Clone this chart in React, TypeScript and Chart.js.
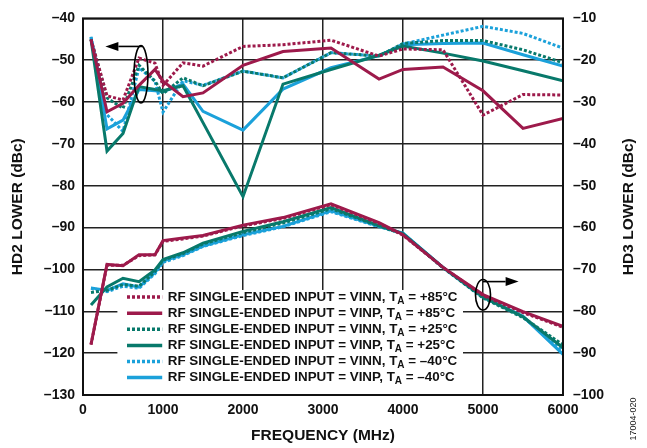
import React, { useEffect, useRef } from "react";
import { Chart, registerables } from "chart.js";

Chart.register(...registerables);

// ---------- DATA ----------
const freqMHz = [100, 300, 500, 700, 900, 1000, 1250, 1500, 2000, 2500, 3100, 3700, 4000, 4500, 5000, 5500, 6000];

// HD2 (left axis, dBc)
const hd2VinnP85 = [-45, -58.5, -59.5, -49.5, -50.7, -56, -50.6, -51.4, -46.7, -46.3, -45.2, -49, -47.3, -47.5, -63.1, -58.2, -58.3];
const hd2VinpP85 = [-45.1, -62.3, -60.3, -56, -52.2, -55, -58.7, -57.8, -51.2, -47.9, -47.1, -54.5, -52.2, -51.6, -57.3, -66.3, -63.9];
const hd2VinnP25 = [-45, -59, -61.5, -51.2, -55, -58, -54.2, -56.1, -52.6, -54.2, -48.2, -49, -46, -45.3, -45.3, -47.5, -50.6];
const hd2VinpP25 = [-45, -71.7, -67.5, -56.3, -57, -57.3, -56.1, -64.9, -82.6, -55.7, -52.2, -48.8, -46.6, -48.3, -50.2, -52.5, -54.9];
const hd2VinnM40 = [-44.4, -63, -67, -51.8, -55, -62.4, -54.9, -56, -52.6, -54.2, -48.2, -49, -46.1, -44, -41.9, -43.6, -47.1];
const hd2VinpM40 = [-44.5, -66.4, -64.3, -57, -57.3, -57.5, -55.7, -62.2, -66.7, -56.9, -51.8, -48.9, -46.3, -46, -45.9, -48.7, -51.4];

// HD3 (right axis, dBc)
const hd3VinnP85 = [-88, -69, -69, -66.7, -66.5, -63.3, -62.7, -62, -59.6, -57.8, -54.5, -59, -61.8, -69.5, -76.2, -80.3, -83.8];
const hd3VinpP85 = [-87.9, -68.8, -69.1, -66.5, -66.5, -63.1, -62.5, -61.9, -59.4, -57.6, -54.3, -58.8, -61.7, -69.5, -76, -80.1, -83.6];
const hd3VinnP25 = [-75.5, -75, -73.6, -74, -70.5, -67.8, -66.2, -63.9, -61.2, -58.9, -55.5, -59.6, -61.5, -69.6, -76.8, -81.5, -88];
const hd3VinpP25 = [-78.5, -74.2, -72.1, -72.9, -70.1, -67.6, -66, -63.7, -60.9, -58.6, -55.2, -59.5, -61.5, -69.5, -76.6, -81.3, -88.7];
const hd3VinnM40 = [-74.5, -75.3, -74, -74.5, -71, -68.3, -66.7, -64.5, -61.9, -59.8, -56.2, -59.8, -61.4, -69.6, -76.7, -81.3, -89.5];
const hd3VinpM40 = [-74.4, -75, -73.4, -74.2, -70.7, -68, -66.5, -64.4, -61.7, -59.7, -56, -59.7, -61.3, -69.5, -76.6, -81.2, -90.3];

const inputNames = ["VINN", "VINP", "VINN", "VINP", "VINN", "VINP"];
const tempNames = ["+85°C", "+85°C", "+25°C", "+25°C", "–40°C", "–40°C"];
const seriesColors = ["#9d1a4b", "#9d1a4b", "#08796b", "#08796b", "#1ba1da", "#1ba1da"];
const seriesDotted = [true, false, true, false, true, false];
const hd2Series = [hd2VinnP85, hd2VinpP85, hd2VinnP25, hd2VinpP25, hd2VinnM40, hd2VinpM40];
const hd3Series = [hd3VinnP85, hd3VinpP85, hd3VinnP25, hd3VinpP25, hd3VinnM40, hd3VinpM40];

const xTitle = "FREQUENCY (MHz)";
const yLeftTitle = "HD2 LOWER (dBc)";
const yRightTitle = "HD3 LOWER (dBc)";
const figureId = "17004-020";

const FONT = "'Liberation Sans', Arial, Helvetica, sans-serif";
const DASH = [3, 2];

const fmt = (v: number) => (v < 0 ? "–" + Math.abs(v) : String(v));

const decoPlugin = {
  id: "deco",
  beforeDatasetsDraw(chart: any) {
    const { ctx, chartArea, scales } = chart;
    const x = scales.x, y = scales.y;
    // legend background box
    const l = x.getPixelForValue(430);
    const r = x.getPixelForValue(4750);
    const t = y.getPixelForValue(-104.9);
    ctx.save();
    ctx.fillStyle = "#fff";
    ctx.fillRect(l, t, r - l, chartArea.bottom - t);
    ctx.restore();
  },
  afterDraw(chart: any) {
    const { ctx, chartArea, scales } = chart;
    const x = scales.x, y = scales.y, y2 = scales.y2;
    ctx.save();
    // frame
    ctx.strokeStyle = "#111";
    ctx.lineWidth = 2;
    ctx.strokeRect(chartArea.left, chartArea.top, chartArea.right - chartArea.left, chartArea.bottom - chartArea.top);

    // legend
    const rowY0 = y.getPixelForValue(-106.6);
    const rowStep = 16.1;
    const lx0 = x.getPixelForValue(550);
    const lx1 = x.getPixelForValue(990);
    const tx = x.getPixelForValue(1060);
    for (let i = 0; i < 6; i++) {
      const ry = rowY0 + i * rowStep;
      ctx.strokeStyle = seriesColors[i];
      ctx.lineWidth = 3.5;
      ctx.setLineDash(seriesDotted[i] ? DASH : []);
      ctx.beginPath();
      ctx.moveTo(lx0, ry);
      ctx.lineTo(lx1, ry);
      ctx.stroke();
      ctx.setLineDash([]);
      ctx.fillStyle = "#111";
      ctx.textBaseline = "middle";
      ctx.textAlign = "left";
      ctx.font = `bold 13.4px ${FONT}`;
      const pre = `RF SINGLE-ENDED INPUT = ${inputNames[i]}, T`;
      ctx.fillText(pre, tx, ry);
      let cx = tx + ctx.measureText(pre).width;
      ctx.font = `bold 10px ${FONT}`;
      ctx.fillText("A", cx, ry + 4);
      cx += ctx.measureText("A").width;
      ctx.font = `bold 13.4px ${FONT}`;
      ctx.fillText(` = ${tempNames[i]}`, cx, ry);
    }

    // annotations: ellipses and arrows
    ctx.strokeStyle = "#000";
    ctx.fillStyle = "#000";
    ctx.lineWidth = 1.6;
    const ell = (fx: number, fr: number, sc: any, v1: number, v2: number) => {
      const cx = x.getPixelForValue(fx);
      const rx = x.getPixelForValue(fx + fr) - cx;
      const a = sc.getPixelForValue(v1), b = sc.getPixelForValue(v2);
      ctx.beginPath();
      ctx.ellipse(cx, (a + b) / 2, rx, Math.abs(b - a) / 2, 0, 0, Math.PI * 2);
      ctx.stroke();
    };
    const arrow = (f0: number, f1: number, sc: any, v: number) => {
      const xa = x.getPixelForValue(f0), xb = x.getPixelForValue(f1);
      const yy = sc.getPixelForValue(v);
      const dir = Math.sign(xb - xa);
      const headLen = 13;
      ctx.beginPath();
      ctx.moveTo(xa, yy);
      ctx.lineTo(xb - dir * headLen, yy);
      ctx.stroke();
      ctx.beginPath();
      ctx.moveTo(xb, yy);
      ctx.lineTo(xb - dir * headLen, yy - 4.5);
      ctx.lineTo(xb - dir * headLen, yy + 4.5);
      ctx.closePath();
      ctx.fill();
    };
    ell(725, 87, y, -46.5, -60.2);
    arrow(740, 280, y, -46.7);
    ell(5000, 94, y2, -72.4, -79.7);
    arrow(5000, 5445, y2, -72.9);

    // axis titles
    ctx.fillStyle = "#111";
    ctx.font = `bold 15.5px ${FONT}`;
    ctx.textAlign = "center";
    ctx.textBaseline = "middle";
    ctx.fillText(xTitle, (chartArea.left + chartArea.right) / 2, 436);
    const midY = (chartArea.top + chartArea.bottom) / 2;
    ctx.save();
    ctx.translate(18, midY);
    ctx.rotate(-Math.PI / 2);
    ctx.fillText(yLeftTitle, 0, 0);
    ctx.restore();
    ctx.save();
    ctx.translate(629, midY);
    ctx.rotate(-Math.PI / 2);
    ctx.fillText(yRightTitle, 0, 0);
    ctx.restore();
    // figure id
    ctx.save();
    ctx.font = `9px ${FONT}`;
    ctx.fillStyle = "#222";
    ctx.translate(634, 419);
    ctx.rotate(-Math.PI / 2);
    ctx.fillText(figureId, 0, 0);
    ctx.restore();
    ctx.restore();
  },
};

export default function App() {
  const ref = useRef<HTMLCanvasElement | null>(null);
  useEffect(() => {
    document.body.style.margin = "0";
    const canvas = ref.current;
    if (!canvas) return;
    const datasets: any[] = [];
    for (let i = 0; i < 6; i++) {
      datasets.push({
        label: `RF SINGLE-ENDED INPUT = ${inputNames[i]}, TA = ${tempNames[i]}`,
        data: freqMHz.map((f, k) => ({ x: f, y: hd2Series[i][k] })),
        borderColor: seriesColors[i],
        borderWidth: 3,
        borderDash: seriesDotted[i] ? DASH : [],
        yAxisID: "y",
      });
    }
    for (let i = 0; i < 6; i++) {
      datasets.push({
        label: `HD3 ${inputNames[i]} ${tempNames[i]}`,
        data: freqMHz.map((f, k) => ({ x: f, y: hd3Series[i][k] })),
        borderColor: seriesColors[i],
        borderWidth: 3,
        borderDash: seriesDotted[i] ? DASH : [],
        yAxisID: "y2",
      });
    }
    const tickFont = { family: FONT, size: 14, weight: "bold" as const };
    const chart = new Chart(canvas, {
      type: "line",
      data: { datasets },
      options: {
        animation: false,
        responsive: false,
        devicePixelRatio: 1,
        layout: { padding: { top: 11, left: 0, right: 0, bottom: 0 } },
        plugins: { legend: { display: false }, tooltip: { enabled: false } },
        elements: {
          point: { radius: 0 },
          line: { tension: 0, borderCapStyle: "butt", borderJoinStyle: "miter", fill: false },
        },
        scales: {
          x: {
            type: "linear",
            min: 0,
            max: 6000,
            ticks: { stepSize: 1000, font: tickFont, color: "#111", padding: 7, maxRotation: 0, callback: (v: any) => String(v) },
            grid: { color: "#222", lineWidth: 1.5, drawTicks: false },
            border: { display: false },
            afterFit: (s: any) => { s.height = 53; },
          },
          y: {
            type: "linear",
            position: "left",
            min: -130,
            max: -40,
            ticks: { stepSize: 10, font: tickFont, color: "#111", padding: 8, callback: (v: any) => fmt(Number(v)) },
            grid: { color: "#222", lineWidth: 1.5, drawTicks: false },
            border: { display: false },
            afterFit: (s: any) => { s.width = 83; },
          },
          y2: {
            type: "linear",
            position: "right",
            min: -100,
            max: -10,
            ticks: { stepSize: 10, font: tickFont, color: "#111", padding: 10, callback: (v: any) => fmt(Number(v)) },
            grid: { display: false, drawTicks: false },
            border: { display: false },
            afterFit: (s: any) => { s.width = 84; },
          },
        },
      },
      plugins: [decoPlugin],
    });
    return () => chart.destroy();
  }, []);
  return <canvas ref={ref} width={647} height={448} style={{ display: "block" }} />;
}
